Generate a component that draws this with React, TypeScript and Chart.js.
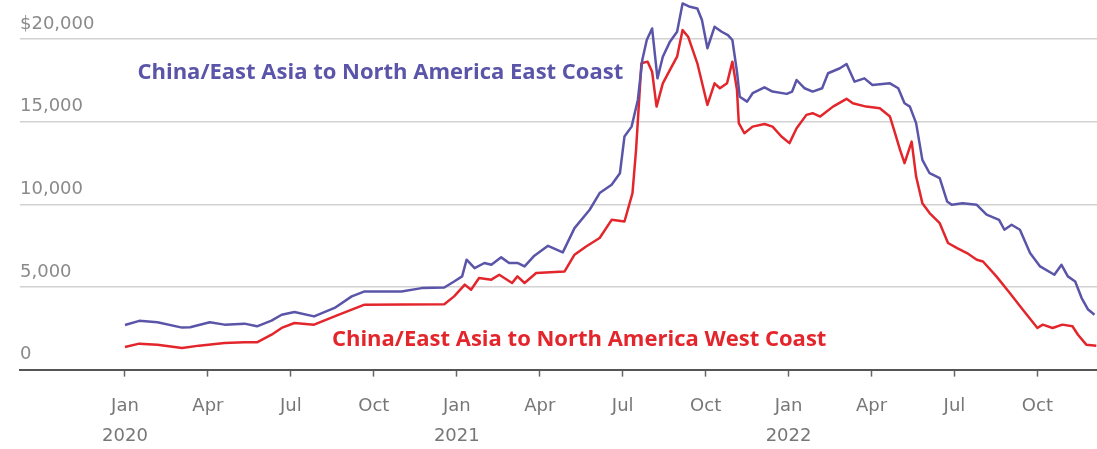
import React, { useEffect, useRef } from "react";
import { Chart, registerables } from "chart.js";

Chart.register(...registerables);

// Weekly container freight rate, US$ per 40ft container
const eastCoastDates = [
  "2020-01-01", "2020-01-17", "2020-02-06", "2020-03-03", "2020-03-12", "2020-04-03", "2020-04-19",
  "2020-05-11", "2020-05-25", "2020-06-10", "2020-06-21", "2020-07-05", "2020-07-27", "2020-08-19",
  "2020-09-07", "2020-09-21", "2020-11-01", "2020-11-23", "2020-12-18", "2020-12-29", "2021-01-07",
  "2021-01-12", "2021-01-21", "2021-02-01", "2021-02-08", "2021-02-18", "2021-02-26", "2021-03-07",
  "2021-03-15", "2021-03-26", "2021-04-10", "2021-04-26", "2021-05-09", "2021-05-26", "2021-06-06",
  "2021-06-19", "2021-06-28", "2021-07-03", "2021-07-11", "2021-07-18", "2021-07-23", "2021-07-28",
  "2021-08-03", "2021-08-09", "2021-08-15", "2021-08-23", "2021-08-31", "2021-09-06", "2021-09-14",
  "2021-09-22", "2021-09-27", "2021-10-03", "2021-10-11", "2021-10-19", "2021-10-26", "2021-10-31",
  "2021-11-05", "2021-11-08", "2021-11-16", "2021-11-22", "2021-12-05", "2021-12-14", "2021-12-30",
  "2022-01-05", "2022-01-10", "2022-01-19", "2022-01-28", "2022-02-07", "2022-02-13", "2022-02-25",
  "2022-03-04", "2022-03-13", "2022-03-24", "2022-04-02", "2022-04-21", "2022-04-30", "2022-05-07",
  "2022-05-13", "2022-05-20", "2022-05-27", "2022-06-04", "2022-06-15", "2022-06-23", "2022-06-28",
  "2022-07-10", "2022-07-26", "2022-08-06", "2022-08-20", "2022-08-26", "2022-09-03", "2022-09-12",
  "2022-09-23", "2022-10-04", "2022-10-20", "2022-10-28", "2022-11-04", "2022-11-12", "2022-11-19",
  "2022-11-26", "2022-12-03",
];
const eastCoastValues = [
  2700, 2950, 2860, 2540, 2560, 2860, 2720,
  2780, 2620, 2960, 3320, 3480, 3220, 3730,
  4430, 4730, 4730, 4930, 4970, 5330, 5640,
  6650, 6140, 6450, 6340, 6790, 6450, 6450,
  6240, 6890, 7490, 7090, 8560, 9670, 10680,
  11180, 11880, 14100, 14700, 16310, 18730, 19940,
  20640, 17620, 18930, 19840, 20440, 22150, 21950,
  21850, 21150, 19440, 20740, 20440, 20240, 19940,
  18020, 16510, 16210, 16720, 17080, 16820, 16680,
  16820, 17520, 17020, 16820, 17020, 17930, 18230,
  18490, 17420, 17620, 17220, 17320, 17020, 16110,
  15910, 14910, 12690, 11880, 11580, 10170, 9970,
  10070, 9970, 9370, 9060, 8460, 8760, 8460,
  7050, 6240, 5740, 6340, 5640, 5330, 4330,
  3630, 3320,
];

const westCoastDates = [
  "2020-01-01", "2020-01-17", "2020-02-06", "2020-03-03", "2020-03-22", "2020-04-19", "2020-05-11",
  "2020-05-25", "2020-06-10", "2020-06-21", "2020-07-05", "2020-07-27", "2020-08-19", "2020-09-07",
  "2020-09-21", "2020-12-18", "2020-12-29", "2021-01-10", "2021-01-17", "2021-01-26", "2021-02-08",
  "2021-02-16", "2021-03-01", "2021-03-07", "2021-03-15", "2021-03-28", "2021-04-28", "2021-05-09",
  "2021-05-22", "2021-06-06", "2021-06-19", "2021-07-03", "2021-07-12", "2021-07-16", "2021-07-22",
  "2021-07-29", "2021-08-03", "2021-08-08", "2021-08-15", "2021-08-23", "2021-08-31", "2021-09-06",
  "2021-09-12", "2021-09-22", "2021-10-03", "2021-10-11", "2021-10-17", "2021-10-25", "2021-10-31",
  "2021-11-05", "2021-11-07", "2021-11-13", "2021-11-22", "2021-12-05", "2021-12-14", "2021-12-24",
  "2022-01-02", "2022-01-10", "2022-01-21", "2022-01-28", "2022-02-05", "2022-02-18", "2022-03-04",
  "2022-03-11", "2022-03-26", "2022-04-10", "2022-04-21", "2022-04-26", "2022-05-02", "2022-05-07",
  "2022-05-15", "2022-05-20", "2022-05-27", "2022-06-04", "2022-06-15", "2022-06-24", "2022-07-04",
  "2022-07-15", "2022-07-26", "2022-08-02", "2022-08-17", "2022-09-01", "2022-09-15", "2022-10-01",
  "2022-10-07", "2022-10-18", "2022-10-29", "2022-11-09", "2022-11-15", "2022-11-24", "2022-12-05",
];
const westCoastValues = [
  1370, 1570, 1510, 1310, 1450, 1610, 1650,
  1650, 2110, 2520, 2820, 2720, 3220, 3630,
  3930, 3950, 4430, 5140, 4830, 5540, 5440,
  5740, 5240, 5640, 5240, 5840, 5940, 6950,
  7450, 7960, 9060, 8960, 10680, 13290, 18530,
  18630, 18020, 15910, 17320, 18130, 18930, 20540,
  20140, 18530, 16010, 17320, 17020, 17320, 18630,
  16920, 14910, 14300, 14700, 14860, 14700, 14100,
  13700, 14600, 15410, 15510, 15310, 15910, 16380,
  16110, 15910, 15810, 15310, 14400, 13290, 12490,
  13790, 11680, 10070, 9470, 8860, 7660, 7350,
  7050, 6650, 6540, 5640, 4630, 3630, 2520,
  2720, 2520, 2720, 2620, 2110, 1510, 1450,
];

const xTickLabels: (string | string[])[] = [
  ["Jan", "2020"], "Apr", "Jul", "Oct",
  ["Jan", "2021"], "Apr", "Jul", "Oct",
  ["Jan", "2022"], "Apr", "Jul", "Oct",
  ["Jan", "2023"],
];
const yTicks = [0, 5000, 10000, 15000, 20000];

const seriesLabels = [
  "China/East Asia to North America East Coast",
  "China/East Asia to North America West Coast",
];
// annotation anchors: [date, value]
const labelAnchors: [string, number][] = [
  ["2020-01-15", 17950],
  ["2020-08-16", 1810],
];

const BLUE = "#5a55a8";
const RED = "#e3262c";

function toMonths(d: string): number {
  const [y, m, day] = d.split("-").map(Number);
  const dim = new Date(y, m, 0).getDate();
  return (y - 2020) * 12 + (m - 1) + (day - 1) / dim;
}

function pts(dates: string[], values: number[]) {
  return dates.map((d, i) => ({ x: toMonths(d), y: values[i] }));
}

export default function App() {
  const ref = useRef<HTMLCanvasElement | null>(null);

  useEffect(() => {
    if (!ref.current) return;
    const annot = {
      id: "lineLabels",
      afterDatasetsDraw(chart: any) {
        const ctx = chart.ctx;
        const xs = chart.scales.x;
        const ys = chart.scales.y;
        const colors = [BLUE, RED];
        ctx.save();
        ctx.font = "bold 22px 'Open Sans'";
        ctx.textAlign = "left";
        ctx.textBaseline = "middle";
        labelAnchors.forEach((a, i) => {
          ctx.fillStyle = colors[i];
          ctx.fillText(seriesLabels[i], xs.getPixelForValue(toMonths(a[0])), ys.getPixelForValue(a[1]));
        });
        ctx.restore();
      },
    };

    const chart = new Chart(ref.current, {
      type: "line",
      data: {
        datasets: [
          {
            label: seriesLabels[0],
            data: pts(eastCoastDates, eastCoastValues),
            borderColor: BLUE,
            borderWidth: 2.5,
            pointRadius: 0,
            tension: 0,
            borderJoinStyle: "round",
          },
          {
            label: seriesLabels[1],
            data: pts(westCoastDates, westCoastValues),
            borderColor: RED,
            borderWidth: 2.5,
            pointRadius: 0,
            tension: 0,
            borderJoinStyle: "round",
          },
        ],
      },
      options: {
        animation: false,
        responsive: false,
        devicePixelRatio: 1,
        layout: { padding: { left: 20, right: 60, top: 0, bottom: 0 } },
        plugins: { legend: { display: false }, tooltip: { enabled: false } },
        scales: {
          x: {
            type: "linear",
            min: -3.797,
            max: 36.71,
            afterBuildTicks: (scale: any) => {
              scale.ticks = xTickLabels.map((_, i) => ({ value: i * 3 }));
            },
            ticks: {
              autoSkip: false,
              maxRotation: 0,
              padding: 15,
              color: "#777",
              font: { family: "'DejaVu Sans'", size: 18, lineHeight: 1.65 },
              callback: (_v: any, i: number) => xTickLabels[i],
            },
            grid: {
              drawOnChartArea: false,
              drawTicks: true,
              tickLength: 7,
              tickColor: "#666",
              tickWidth: 1.5,
            },
            border: { display: true, color: "#555", width: 2 },
          },
          y: {
            type: "linear",
            min: 0,
            max: 22360,
            afterBuildTicks: (scale: any) => {
              scale.ticks = yTicks.map((v) => ({ value: v }));
            },
            afterFit: (scale: any) => {
              scale.paddingTop = 0;
              scale.paddingBottom = 0;
            },
            ticks: {
              mirror: true,
              padding: 0,
              labelOffset: -15,
              color: "#8a8a8a",
              font: { family: "'DejaVu Sans'", size: 18 },
              callback: (v: any) =>
                v === 20000 ? "$20,000" : Number(v).toLocaleString("en-US"),
            },
            grid: {
              drawTicks: false,
              color: (c: any) => (c.tick && c.tick.value === 0 ? "rgba(0,0,0,0)" : "#d2d2d2"),
              lineWidth: 1.5,
            },
            border: { display: false },
          },
        },
      },
      plugins: [annot],
    });
    return () => chart.destroy();
  }, []);

  return (
    <div
      style={{
        position: "fixed",
        left: 0,
        top: 0,
        width: 1097,
        height: 449,
        overflow: "hidden",
        background: "#fff",
      }}
    >
      <canvas ref={ref} width={1200} height={466} style={{ display: "block" }} />
    </div>
  );
}
